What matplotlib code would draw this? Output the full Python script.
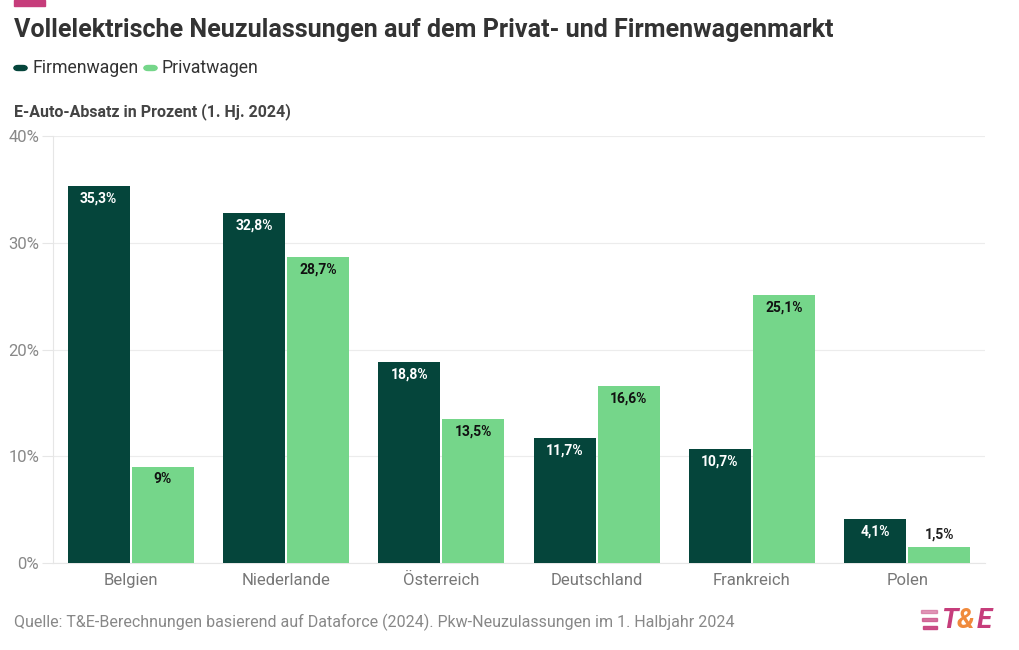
import numpy as np
import matplotlib.pyplot as plt
from matplotlib.patches import Rectangle, FancyBboxPatch

plt.rcParams['font.family'] = ['Roboto', 'DejaVu Sans']

# Daten
laender = ['Belgien', 'Niederlande', 'Österreich', 'Deutschland', 'Frankreich', 'Polen']
firmenwagen = [35.3, 32.8, 18.8, 11.7, 10.7, 4.1]
privatwagen = [9.0, 28.7, 13.5, 16.6, 25.1, 1.5]
firmen_labels = ['35,3%', '32,8%', '18,8%', '11,7%', '10,7%', '4,1%']
privat_labels = ['9%', '28,7%', '13,5%', '16,6%', '25,1%', '1,5%']
y_ticks = [0, 10, 20, 30, 40]
y_ticklabels = ['0%', '10%', '20%', '30%', '40%']

dunkel = '#05453b'
hell = '#75d68a'

fig = plt.figure(figsize=(10.2, 6.5), dpi=100)
ax = fig.add_axes([53/1020, 1-563/650, 932/1020, (563-136)/650])

x = np.arange(len(laender))
w = 0.4
off = 0.206
ax.bar(x - off, firmenwagen, w, color=dunkel, zorder=3)
ax.bar(x + off, privatwagen, w, color=hell, zorder=3)

# Beschriftungen der Balken
for xi, v, lab in zip(x, firmenwagen, firmen_labels):
    ax.annotate(lab, (xi - off, v), xytext=(0, -4), textcoords='offset points',
                ha='center', va='top', color='white', fontsize=10, fontweight='bold', zorder=4)
for xi, v, lab in zip(x, privatwagen, privat_labels):
    if v < 3:
        ax.annotate(lab, (xi + off, v), xytext=(0, 4), textcoords='offset points',
                    ha='center', va='bottom', color='#222222', fontsize=10, fontweight='bold', zorder=4)
    else:
        ax.annotate(lab, (xi + off, v), xytext=(0, -4), textcoords='offset points',
                    ha='center', va='top', color='#111111', fontsize=10, fontweight='bold', zorder=4)

ax.set_xlim(-0.5, len(laender) - 0.5)
ax.set_ylim(0, 40)
ax.set_yticks(y_ticks)
ax.set_yticklabels(y_ticklabels)
ax.set_xticks(x)
ax.set_xticklabels(laender)
ax.tick_params(axis='y', length=8, color='#e6e6e6', labelcolor='#888888', labelsize=12, pad=2)
ax.tick_params(axis='x', length=0, labelcolor='#777777', labelsize=12, pad=7.5)
ax.grid(axis='y', color='#ececec', linewidth=0.8, zorder=0)
for s in ['top', 'right']:
    ax.spines[s].set_visible(False)
ax.spines['left'].set_color('#e6e6e6')
ax.spines['bottom'].set_color('#e6e6e6')

# Titel, Legende, Untertitel
fig.patches.append(Rectangle((14/1020, 1-6/650), 31/1020, 6/650, transform=fig.transFigure,
                             color='#c63d7b', figure=fig))
fig.text(14/1020, 1-29.5/650, 'Vollelektrische Neuzulassungen auf dem Privat- und Firmenwagenmarkt',
         fontsize=18.1, fontweight='bold', color='#333333', va='center')
for xp, col in [(14, dunkel), (144, hell)]:
    fig.patches.append(FancyBboxPatch((xp/1020, 1-70.5/650), 13/1020, 5/650,
                                      boxstyle='round,pad=0,rounding_size=0.004',
                                      transform=fig.transFigure, color=col, figure=fig))
fig.text(32/1020, 1-68/650, 'Firmenwagen', fontsize=12.7, color='#333333', va='center')
fig.text(162/1020, 1-68/650, 'Privatwagen', fontsize=12.7, color='#333333', va='center')
fig.text(14/1020, 1-112/650, 'E-Auto-Absatz in Prozent (1. Hj. 2024)',
         fontsize=11.5, fontweight='bold', color='#444444', va='center')

# Quelle
fig.text(14/1020, 1-622/650,
         'Quelle: T&E-Berechnungen basierend auf Dataforce (2024). Pkw-Neuzulassungen im 1. Halbjahr 2024',
         fontsize=11.5, color='#888888', va='center')

# Logo
for i, yy in enumerate([610, 618, 626]):
    fig.patches.append(Rectangle(((921 + i)/1020, 1-(yy+3)/650), (16 - i)/1020, 3/650,
                                 transform=fig.transFigure, color='#c63d7b', alpha=0.5 + 0.2*i, figure=fig))
fig.text(941/1020, 1-620/650, 'T', fontsize=20, fontweight='bold', style='italic',
         color='#c63d7b', va='center')
fig.text(957/1020, 1-620/650, '&', fontsize=20, fontweight='bold', style='italic',
         color='#f08a3c', va='center')
fig.text(977/1020, 1-620/650, 'E', fontsize=20, fontweight='bold', style='italic',
         color='#c63d7b', va='center')

fig.savefig('out.png', dpi=100)
